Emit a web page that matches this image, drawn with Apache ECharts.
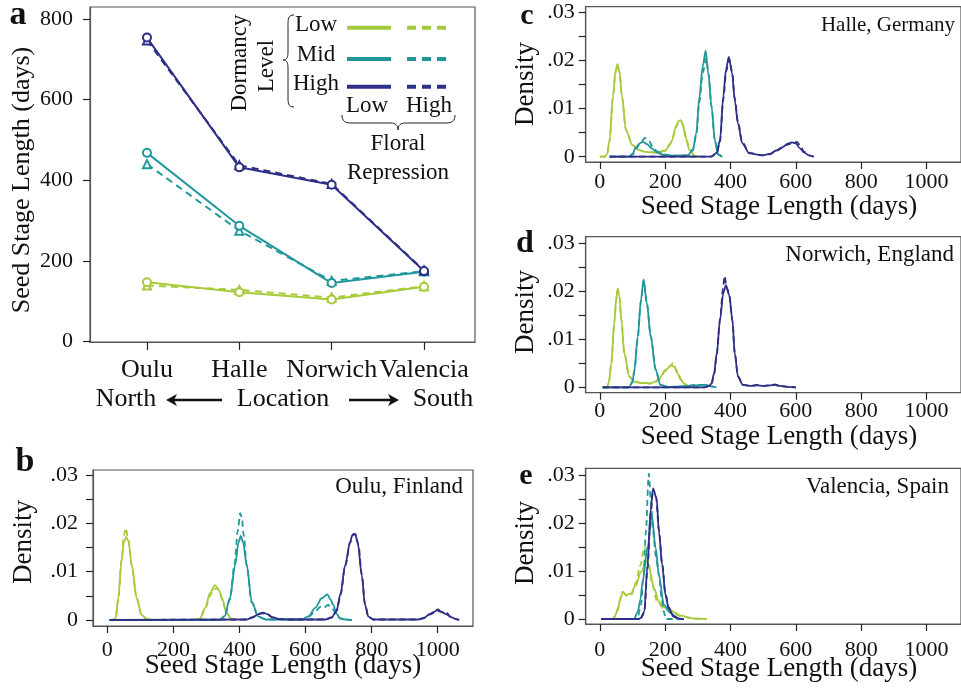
<!DOCTYPE html>
<html>
<head>
<meta charset="utf-8">
<script src="https://cdn.jsdelivr.net/npm/echarts@6/dist/echarts.min.js"></script>
<style>
  html, body { margin: 0; padding: 0; background: #fff; }
  #chart { width: 961px; height: 689px; }
</style>
</head>
<body>
<div id="chart"></div>
<script>
// panel a: mean seed stage length per location
const locations = ['Oulu', 'Halle', 'Norwich', 'Valencia']
const lowDormSolid = [147, 122, 104, 136]
const lowDormDashed = [139, 128, 109, 137]
const midDormSolid = [468, 287, 145, 173]
const midDormDashed = [440, 275, 150, 174]
const highDormSolid = [754, 432, 389, 175]
const highDormDashed = [747, 437, 391, 176]
const lengthTicks = [0, 200, 400, 600, 800]

// density curves [days, density]
const ouluLowSolid = [[8,0],[25,0.0002],[33,0.0045],[43,0.012],[50,0.016],[57,0.0172],[64,0.0163],[74,0.0114],[89,0.0045],[104,0.001],[120,0.0002],[140,0],[265,0],[280,0.0003],[296,0.0025],[311,0.0056],[326,0.0072],[338,0.0062],[347,0.0045],[361,0.0014],[375,0.0003],[390,0]]
const ouluLowDashed = [[8,0],[25,0.0001],[33,0.004],[43,0.0125],[50,0.0175],[56,0.019],[63,0.0168],[74,0.0112],[89,0.0044],[104,0.001],[120,0.0002],[140,0],[265,0],[280,0.0003],[296,0.0022],[311,0.005],[322,0.0063],[332,0.0066],[340,0.0058],[349,0.004],[361,0.0015],[375,0.0003],[390,0]]
const ouluMidSolid = [[5,0],[340,0],[355,0.0008],[371,0.0045],[387,0.0114],[397,0.016],[404,0.0174],[411,0.016],[422,0.0114],[437,0.0038],[457,0.0007],[480,0.0001],[590,0.0001],[610,0.0008],[629,0.0025],[649,0.0045],[666,0.0053],[676,0.0042],[684,0.0031],[694,0.0012],[705,0.0004],[720,0.0001],[740,0]]
const ouluMidDashed = [[5,0],[340,0],[355,0.0007],[371,0.0042],[385,0.0115],[395,0.0185],[402,0.0221],[407,0.0212],[413,0.0175],[422,0.0112],[437,0.0036],[457,0.0007],[480,0.0001],[590,0.0001],[610,0.0007],[629,0.0018],[645,0.0027],[655,0.0025],[668,0.0031],[678,0.0026],[688,0.0018],[696,0.0008],[705,0.0003],[720,0.0001],[740,0]]
const ouluHighSolid = [[8,0],[420,0.0001],[440,0.0005],[455,0.0011],[472,0.0015],[485,0.0012],[500,0.0006],[520,0.0002],[560,0.0001],[660,0.0001],[680,0.0006],[694,0.002],[706,0.0055],[720,0.0114],[735,0.0162],[742,0.0176],[750,0.0178],[758,0.016],[770,0.0093],[780,0.0031],[790,0.0007],[805,0.0001],[940,0.0001],[960,0.0005],[975,0.0012],[990,0.0017],[1000,0.0022],[1012,0.0017],[1025,0.0012],[1040,0.0006],[1055,0.0002],[1065,0]]
const ouluHighDashed = [[8,0],[420,0.0001],[440,0.0006],[455,0.0013],[470,0.0014],[485,0.0011],[500,0.0005],[520,0.0002],[560,0.0001],[660,0.0001],[680,0.0005],[694,0.0018],[706,0.0052],[720,0.0112],[735,0.016],[745,0.0178],[752,0.0176],[760,0.0155],[770,0.0095],[780,0.0033],[790,0.0008],[805,0.0001],[940,0.0001],[960,0.0004],[975,0.0011],[990,0.0015],[1000,0.0019],[1012,0.0016],[1025,0.0016],[1040,0.0007],[1055,0.0002],[1065,0]]

const halleLowSolid = [[0,0],[15,0],[22,0.0005],[30,0.0035],[40,0.0125],[48,0.0178],[54,0.0193],[60,0.0178],[68,0.0125],[80,0.0055],[100,0.0024],[120,0.0014],[140,0.001],[175,0.0008],[200,0.0012],[215,0.0025],[222,0.0035],[232,0.0062],[242,0.0075],[248,0.0076],[255,0.0065],[262,0.0041],[275,0.0013],[290,0.0002],[302,0]]
const halleLowDashed = [[0,0],[15,0],[22,0.0004],[30,0.0033],[40,0.0122],[48,0.0175],[54,0.019],[60,0.0176],[68,0.0124],[80,0.0056],[100,0.0024],[120,0.0014],[140,0.001],[175,0.0009],[200,0.0013],[215,0.0027],[222,0.0037],[232,0.006],[242,0.0072],[250,0.0073],[257,0.0062],[264,0.004],[275,0.0014],[290,0.0002],[302,0]]
const halleMidSolid = [[30,0],[90,0],[100,0.0006],[110,0.0019],[122,0.0028],[132,0.0031],[145,0.0026],[160,0.0017],[175,0.0009],[195,0.0004],[230,0.0002],[270,0.0003],[285,0.0015],[295,0.0048],[305,0.0125],[315,0.0188],[324,0.0221],[332,0.0174],[342,0.0104],[352,0.0035],[362,0.0004],[375,0]]
const halleMidDashed = [[30,0],[90,0],[100,0.0005],[112,0.0017],[125,0.003],[138,0.0039],[150,0.0033],[162,0.0021],[175,0.0011],[195,0.0005],[230,0.0002],[270,0.0003],[285,0.0013],[295,0.0044],[305,0.0115],[315,0.0175],[326,0.0205],[333,0.0172],[342,0.0105],[352,0.0036],[362,0.0005],[375,0]]
const halleHighSolid = [[30,0],[340,0],[358,0.0008],[368,0.0035],[378,0.0125],[386,0.0181],[395,0.0208],[405,0.0174],[413,0.0118],[423,0.0069],[436,0.0028],[458,0.0007],[498,0.0003],[520,0.0006],[540,0.0013],[560,0.002],[575,0.0027],[588,0.003],[600,0.0028],[612,0.0018],[625,0.0009],[640,0.0003],[655,0]]
const halleHighDashed = [[30,0],[340,0],[358,0.0007],[368,0.0032],[378,0.012],[387,0.0178],[396,0.0203],[405,0.0178],[413,0.0122],[423,0.0072],[436,0.003],[458,0.0008],[498,0.0003],[520,0.0005],[540,0.0012],[560,0.0019],[575,0.0025],[590,0.0029],[604,0.0031],[614,0.0022],[626,0.001],[640,0.0003],[655,0]]

const norwichLowSolid = [[8,0],[22,0],[28,0.0012],[35,0.005],[45,0.014],[50,0.0185],[55,0.0206],[60,0.019],[66,0.014],[75,0.0071],[90,0.0022],[105,0.0012],[130,0.0009],[155,0.0008],[170,0.0012],[181,0.0018],[201,0.0036],[218,0.0045],[228,0.0043],[237,0.003],[248,0.0016],[257,0.0008],[277,0.0001],[288,0]]
const norwichLowDashed = [[8,0],[22,0],[28,0.0011],[35,0.0048],[45,0.0138],[50,0.0182],[55,0.0203],[60,0.0188],[66,0.0141],[75,0.0072],[90,0.0023],[105,0.0012],[130,0.0009],[155,0.0008],[170,0.0011],[181,0.0017],[201,0.0034],[215,0.0044],[225,0.0051],[233,0.0038],[242,0.0025],[252,0.0012],[262,0.0005],[277,0.0001],[288,0]]
const norwichMidSolid = [[8,0],[90,0],[100,0.0012],[106,0.0036],[116,0.0105],[126,0.0182],[134,0.0225],[144,0.0175],[156,0.0105],[171,0.0036],[186,0.0004],[210,0.0001],[260,0.0002],[290,0.0004],[310,0.0005],[325,0.0005],[340,0.0002],[357,0]]
const norwichMidDashed = [[8,0],[90,0],[100,0.0011],[106,0.0034],[116,0.0102],[126,0.018],[134,0.0222],[144,0.0176],[156,0.0106],[171,0.0037],[186,0.0005],[210,0.0001],[260,0.0002],[290,0.0005],[310,0.0004],[325,0.0006],[340,0.0002],[357,0]]
const norwichHighSolid = [[10,0],[320,0],[335,0.0003],[342,0.0008],[350,0.003],[358,0.0071],[368,0.014],[378,0.0196],[386,0.0213],[396,0.0192],[406,0.014],[413,0.0071],[423,0.0022],[438,0.0005],[460,0.0003],[483,0.0004],[500,0.0003],[520,0.0004],[534,0.0005],[550,0.0003],[575,0.0001],[600,0]]
const norwichHighDashed = [[10,0],[320,0],[335,0.0003],[342,0.0007],[350,0.0028],[358,0.0068],[368,0.0142],[377,0.0205],[382,0.0232],[388,0.0208],[396,0.0195],[406,0.0138],[413,0.0072],[423,0.0023],[438,0.0005],[460,0.0003],[483,0.0005],[500,0.0003],[520,0.0004],[536,0.0006],[550,0.0003],[575,0.0001],[600,0]]

const valenciaLowSolid = [[5,0],[40,0],[48,0.0008],[55,0.0022],[63,0.0042],[70,0.0057],[80,0.005],[95,0.0053],[110,0.007],[126,0.0098],[141,0.0119],[146,0.0122],[151,0.0105],[166,0.0064],[181,0.0036],[196,0.0025],[216,0.0018],[247,0.0007],[287,0.0001],[327,0]]
const valenciaLowDashed = [[5,0],[40,0],[48,0.0006],[56,0.002],[64,0.0045],[72,0.0055],[82,0.0048],[96,0.005],[110,0.0075],[124,0.0112],[136,0.015],[142,0.0148],[150,0.0115],[160,0.0072],[175,0.0038],[195,0.0022],[216,0.0016],[247,0.0006],[287,0.0001],[327,0]]
const valenciaMidSolid = [[5,0],[105,0],[116,0.0015],[124,0.004],[131,0.0078],[146,0.0148],[159,0.0217],[171,0.0148],[181,0.0092],[196,0.003],[216,0.0013],[237,0.0001],[250,0]]
const valenciaMidDashed = [[5,0],[115,0],[126,0.003],[134,0.0091],[141,0.0182],[150,0.0303],[156,0.025],[163,0.0182],[172,0.013],[181,0.0091],[190,0.004],[196,0.0015],[202,0],[250,0]]
const valenciaHighSolid = [[5,0],[120,0],[126,0.0003],[136,0.0015],[146,0.0112],[156,0.023],[163,0.0272],[174,0.0251],[181,0.0182],[191,0.0112],[201,0.005],[211,0.0022],[226,0.0005],[247,0],[257,0]]
const valenciaHighDashed = [[5,0],[120,0],[126,0.0002],[136,0.0013],[146,0.0105],[156,0.0222],[162,0.0262],[172,0.0255],[181,0.0185],[191,0.0115],[201,0.0052],[211,0.0024],[226,0.0006],[247,0],[257,0]]

const dayTicks = [0, 200, 400, 600, 800, 1000]
const densityMinor = [0, 0.005, 0.01, 0.015, 0.02, 0.025, 0.03]
const densityMajor = [0, 0.01, 0.02, 0.03]

const colLow = '#a6cb3a'
const colMid = '#22979a'
const colHigh = '#2e2f86'
const serif = 'Liberation Serif'

const chart = echarts.init(document.getElementById('chart'))

const gridStyle = { show: true, borderColor: '#555', borderWidth: 1.2, backgroundColor: 'transparent' }
const edgeLine = { show: true, onZero: false, lineStyle: { color: '#555', width: 1.2 } }
const tickStyle = { color: '#222', width: 1.2 }

// density panels b, c, d, e (grid = frame box; min/max set so 0..1000 and 0...03 land on the ticks)
const panels = [
  { left: 93, top: 470, width: 380, height: 156, xmin: -43.3, xmax: 1106.8, ymin: -0.00124, ymax: 0.03103, xMargin: 13, yMargin: 15,
    curves: [ouluLowSolid, ouluLowDashed, ouluMidSolid, ouluMidDashed, ouluHighSolid, ouluHighDashed] },
  { left: 585.7, top: 6.7, width: 380, height: 155.3, xmin: -43.2, xmax: 1105.7, ymin: -0.0011, ymax: 0.03125, xMargin: 9, yMargin: 11,
    curves: [halleLowSolid, halleLowDashed, halleMidSolid, halleMidDashed, halleHighSolid, halleHighDashed] },
  { left: 585.7, top: 236.7, width: 380, height: 156, xmin: -43.2, xmax: 1105.7, ymin: -0.001125, ymax: 0.031375, xMargin: 8, yMargin: 11,
    curves: [norwichLowSolid, norwichLowDashed, norwichMidSolid, norwichMidDashed, norwichHighSolid, norwichHighDashed] },
  { left: 585.7, top: 468.3, width: 380, height: 155.7, xmin: -43.2, xmax: 1105.7, ymin: -0.00104, ymax: 0.0314, xMargin: 15, yMargin: 11,
    curves: [valenciaLowSolid, valenciaLowDashed, valenciaMidSolid, valenciaMidDashed, valenciaHighSolid, valenciaHighDashed] }
]
const curveColors = [colLow, colLow, colMid, colMid, colHigh, colHigh]

const grids = [Object.assign({ left: 90, top: 7, width: 385, height: 335 }, gridStyle)]
const xAxes = [{
  type: 'value', gridIndex: 0, min: -0.617, max: 3.552,
  axisLine: edgeLine,
  axisTick: { show: true, length: 8, customValues: [0, 1, 2, 3], lineStyle: tickStyle },
  axisLabel: { margin: 15, customValues: [0, 1, 2, 3], fontFamily: serif, fontSize: 26, color: '#111', formatter: v => locations[Math.round(v)] },
  splitLine: { show: false }
}]
const yAxes = [{
  type: 'value', gridIndex: 0, min: -1.24, max: 829.8,
  axisLine: edgeLine,
  axisTick: { show: true, length: 7, customValues: lengthTicks, lineStyle: tickStyle },
  axisLabel: { margin: 17, customValues: lengthTicks, fontFamily: serif, fontSize: 22, color: '#111' },
  splitLine: { show: false }
}]
const series = []

const aSets = [
  [lowDormSolid, lowDormDashed, colLow],
  [midDormSolid, midDormDashed, colMid],
  [highDormSolid, highDormDashed, colHigh]
]
aSets.forEach(([solid, dashed, color]) => {
  series.push({
    type: 'line', xAxisIndex: 0, yAxisIndex: 0,
    data: dashed.map((v, i) => [i, v]),
    symbol: 'emptyTriangle', symbolSize: 8,
    lineStyle: { color, width: 2, type: [7, 5] },
    itemStyle: { color, borderColor: color, borderWidth: 1 }
  })
  series.push({
    type: 'line', xAxisIndex: 0, yAxisIndex: 0,
    data: solid.map((v, i) => [i, v]),
    symbol: 'emptyCircle', symbolSize: 8,
    lineStyle: { color, width: 2 },
    itemStyle: { color, borderColor: color, borderWidth: 1 }
  })
})

panels.forEach((p, k) => {
  const gi = k + 1
  grids.push(Object.assign({ left: p.left, top: p.top, width: p.width, height: p.height }, gridStyle))
  xAxes.push({
    type: 'value', gridIndex: gi, min: p.xmin, max: p.xmax,
    axisLine: edgeLine,
    axisTick: { show: true, length: 7, customValues: dayTicks, lineStyle: tickStyle },
    axisLabel: { margin: p.xMargin, customValues: dayTicks, fontFamily: serif, fontSize: 22, color: '#111', formatter: v => String(Math.round(v)) },
    splitLine: { show: false }
  })
  yAxes.push({
    type: 'value', gridIndex: gi, min: p.ymin, max: p.ymax,
    axisLine: edgeLine,
    axisTick: { show: true, length: 7, customValues: densityMinor, lineStyle: tickStyle },
    axisLabel: {
      margin: p.yMargin, customValues: densityMajor, fontFamily: serif, fontSize: 22, color: '#111',
      formatter: v => v === 0 ? '0' : '.0' + Math.round(v * 100)
    },
    splitLine: { show: false }
  })
  p.curves.forEach((data, j) => {
    series.push({
      type: 'line', xAxisIndex: gi, yAxisIndex: gi,
      data, showSymbol: false, smooth: 0.3, smoothMonotone: 'x',
      lineStyle: { color: curveColors[j], width: 1.8, type: j % 2 ? [6, 4] : 'solid' }
    })
  })
})

function txt(text, x, y, size, opts) {
  return Object.assign({
    type: 'text', x, y,
    style: { text, font: size + 'px "' + serif + '"', fill: '#111', textAlign: 'center', textVerticalAlign: 'middle' }
  }, opts || {})
}
function rtxt(text, x, y, size) {
  return { type: 'text', x, y, style: { text, font: size + 'px "' + serif + '"', fill: '#111', textAlign: 'right', textVerticalAlign: 'middle' } }
}
function legLine(x1, x2, y, color, dashed) {
  return { type: 'line', shape: { x1, y1: y, x2, y2: y }, style: { stroke: color, lineWidth: 4, lineDash: dashed ? [9, 6] : null } }
}
function bold(text, x, y, size) {
  return { type: 'text', x, y, style: { text, font: 'bold ' + size + 'px "' + serif + '"', fill: '#111', textAlign: 'center', textVerticalAlign: 'middle' } }
}
function seg(x1, y1, x2, y2) {
  return { type: 'line', shape: { x1, y1, x2, y2 }, style: { stroke: '#222', lineWidth: 1 } }
}
function curve(x1, y1, cpx1, cpy1, cpx2, cpy2, x2, y2) {
  return { type: 'bezierCurve', shape: { x1, y1, cpx1, cpy1, cpx2, cpy2, x2, y2 }, style: { stroke: '#222', lineWidth: 1, fill: 'none' } }
}
const rot = Math.PI / 2

const graphic = [
  bold('a', 18, 15, 34),
  bold('b', 25, 462, 34),
  bold('c', 527, 16, 30),
  bold('d', 525, 244, 32),
  bold('e', 526, 476, 30),

  txt('Seed Stage Length (days)', 22, 180, 26, { rotation: rot }),
  txt('North', 126, 399, 26),
  txt('Location', 283, 399, 26),
  txt('South', 443, 399, 26),
  { type: 'line', shape: { x1: 222, y1: 400, x2: 170, y2: 400 }, style: { stroke: '#111', lineWidth: 2.5 } },
  { type: 'polygon', shape: { points: [[166, 400], [177, 394], [174, 400], [177, 406]] }, style: { fill: '#111' } },
  { type: 'line', shape: { x1: 349, y1: 400, x2: 394, y2: 400 }, style: { stroke: '#111', lineWidth: 2.5 } },
  { type: 'polygon', shape: { points: [[399, 400], [388, 394], [391, 400], [388, 406]] }, style: { fill: '#111' } },

  // legend of panel a
  txt('Dormancy', 240, 63, 23, { rotation: rot }),
  txt('Level', 267, 66, 23, { rotation: rot }),
  curve(294, 15, 288, 15, 288, 19, 288, 26),
  seg(288, 26, 288, 52),
  curve(288, 52, 288, 57, 287, 60, 283, 60),
  curve(283, 60, 287, 60, 288, 63, 288, 68),
  seg(288, 68, 288, 97),
  curve(288, 97, 288, 103, 288, 107, 294, 107),
  txt('Low', 316, 25, 23),
  txt('Mid', 316, 55, 23),
  txt('High', 316, 84, 23),
  legLine(347, 391, 27.7, colLow, false),
  legLine(407, 450, 27.7, colLow, true),
  legLine(347, 391, 59, colMid, false),
  legLine(407, 450, 59, colMid, true),
  legLine(347, 391, 86.7, colHigh, false),
  legLine(407, 450, 86.7, colHigh, true),
  txt('Low', 367, 106, 23),
  txt('High', 429, 106, 23),
  curve(342, 115, 342, 121, 345, 123, 351, 123),
  seg(351, 123, 391, 123),
  curve(391, 123, 395, 123, 398, 125, 398, 130),
  curve(398, 130, 398, 125, 401, 123, 405, 123),
  seg(405, 123, 446, 123),
  curve(446, 123, 452, 123, 455, 121, 455, 115),
  txt('Floral', 398, 144, 23),
  txt('Repression', 398, 173, 23),

  // density panel titles
  txt('Density', 24, 542, 27, { rotation: rot }),
  txt('Seed Stage Length (days)', 283, 666, 27),
  rtxt('Oulu, Finland', 463, 487, 23),

  txt('Density', 526, 84, 27, { rotation: rot }),
  txt('Seed Stage Length (days)', 779, 207, 27),
  rtxt('Halle, Germany', 955, 25, 21),

  txt('Density', 526, 312, 27, { rotation: rot }),
  txt('Seed Stage Length (days)', 779, 437, 27),
  rtxt('Norwich, England', 954, 255, 23),

  txt('Density', 526, 543, 27, { rotation: rot }),
  txt('Seed Stage Length (days)', 779, 669, 27),
  rtxt('Valencia, Spain', 949, 487, 23)
]

chart.setOption({
  backgroundColor: '#fff',
  animation: false,
  grid: grids,
  xAxis: xAxes,
  yAxis: yAxes,
  series,
  graphic
})
</script>
</body>
</html>
